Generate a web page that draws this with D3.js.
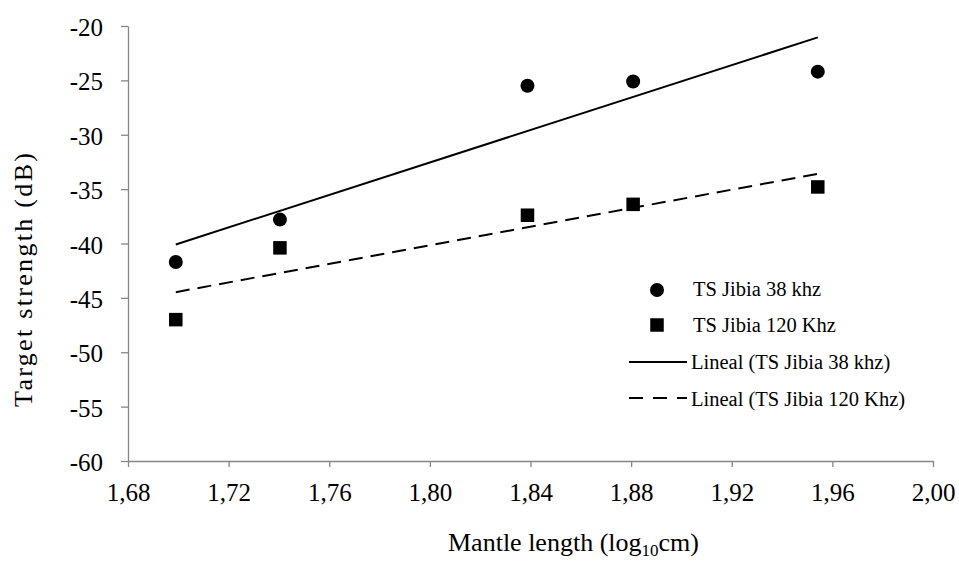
<!DOCTYPE html>
<html><head><meta charset="utf-8">
<script src="https://cdn.jsdelivr.net/npm/d3@7"></script>
<style>body{margin:0;background:#fff}svg{display:block}text{font-family:"Liberation Serif","Times New Roman",serif;fill:#000}</style>
</head><body>
<svg id="c" width="959" height="561"></svg>
<script>
const mantleLog = [1.699, 1.7404, 1.8388, 1.8808, 1.9542];
const ts38 = [-41.7, -37.8, -25.5, -25.1, -24.2];
const ts120 = [-47.0, -40.4, -37.4, -36.4, -34.8];
const xTicks = [1.68, 1.72, 1.76, 1.80, 1.84, 1.88, 1.92, 1.96, 2.00];
const yTicks = [-60, -55, -50, -45, -40, -35, -30, -25, -20];
const seriesNames = ["TS Jibia 38 khz", "TS Jibia 120 Khz"];
const trendNames = ["Lineal (TS Jibia 38 khz)", "Lineal (TS Jibia 120 Khz)"];

const FONT = '"Liberation Serif","Times New Roman",serif';
const svg = d3.select("#c");
const x = d3.scaleLinear().domain([1.68, 2.00]).range([128, 933]);
const y = d3.scaleLinear().domain([-60, -20]).range([461, 26]);
const axisColor = "#868686";

const fmt = d => d.toFixed(2).replace(".", ",");
const gx = svg.append("g").attr("transform", "translate(0,461)")
  .call(d3.axisBottom(x).tickValues(xTicks).tickFormat(fmt).tickSize(6).tickSizeOuter(0));
gx.selectAll("text").attr("font-size", 25).attr("y", 40).attr("dy", 0);
const gy = svg.append("g").attr("transform", "translate(128,0)")
  .call(d3.axisLeft(y).tickValues(yTicks).tickFormat(d => d).tickSize(7).tickSizeOuter(0));
gy.selectAll("text").attr("font-size", 25).attr("x", -25).attr("dy", "0.38em");
svg.selectAll("g").attr("font-family", FONT);
svg.selectAll(".domain, .tick line").attr("stroke", axisColor).attr("stroke-width", 1.3);
svg.selectAll(".tick text").attr("fill", "#000");

// axis titles
svg.append("text").attr("transform", "translate(32,280) rotate(-90)")
  .attr("text-anchor", "middle").attr("font-size", 26).attr("font-family", FONT)
  .attr("textLength", 254).attr("lengthAdjust", "spacing").text("Target strength (dB)");
const xt = svg.append("text").attr("x", 448).attr("y", 551).attr("font-size", 26).attr("font-family", FONT);
xt.append("tspan").text("Mantle length (log");
xt.append("tspan").attr("font-size", 17).attr("dy", 5).text("10");
xt.append("tspan").attr("dy", -5).text("cm)");

// regression
function fit(xs, ys) {
  const mx = d3.mean(xs), my = d3.mean(ys);
  const b = d3.sum(xs, (v, i) => (v - mx) * (ys[i] - my)) / d3.sum(xs, v => (v - mx) ** 2);
  return v => my + b * (v - mx);
}
const x0 = d3.min(mantleLog), x1 = d3.max(mantleLog);
const line = d3.line().x(d => x(d[0])).y(d => y(d[1]));
[[ts38, null], [ts120, "14,8"]].forEach(([ys, dash]) => {
  const f = fit(mantleLog, ys);
  svg.append("path").datum([[x0, f(x0)], [x1, f(x1)]]).attr("d", line)
    .attr("fill", "none").attr("stroke", "#000").attr("stroke-width", 2)
    .attr("stroke-dasharray", dash);
});

// points
svg.append("g").selectAll("circle").data(mantleLog).join("circle")
  .attr("cx", d => x(d)).attr("cy", (d, i) => y(ts38[i])).attr("r", 7).attr("fill", "#000");
svg.append("g").selectAll("rect").data(mantleLog).join("rect")
  .attr("x", d => x(d) - 6.75).attr("y", (d, i) => y(ts120[i]) - 6.75)
  .attr("width", 13.5).attr("height", 13.5).attr("fill", "#000");

// legend
const lg = svg.append("g").attr("font-family", FONT);
lg.append("circle").attr("cx", 657).attr("cy", 290).attr("r", 7).attr("fill", "#000");
lg.append("rect").attr("x", 650.25).attr("y", 318.25).attr("width", 13.5).attr("height", 13.5).attr("fill", "#000");
lg.append("line").attr("x1", 629).attr("x2", 687).attr("y1", 362).attr("y2", 362).attr("stroke", "#000").attr("stroke-width", 2);
lg.append("line").attr("x1", 629).attr("x2", 687).attr("y1", 398).attr("y2", 398).attr("stroke", "#000").attr("stroke-width", 2).attr("stroke-dasharray", "14,10");
const lt = [[693, 296, seriesNames[0]], [693, 332, seriesNames[1]], [691, 369, trendNames[0]], [691, 406, trendNames[1]]];
lg.selectAll("text.l").data(lt).join("text").attr("class", "l")
  .attr("x", d => d[0]).attr("y", d => d[1]).attr("font-size", 20.5).text(d => d[2]);
</script>
</body></html>
